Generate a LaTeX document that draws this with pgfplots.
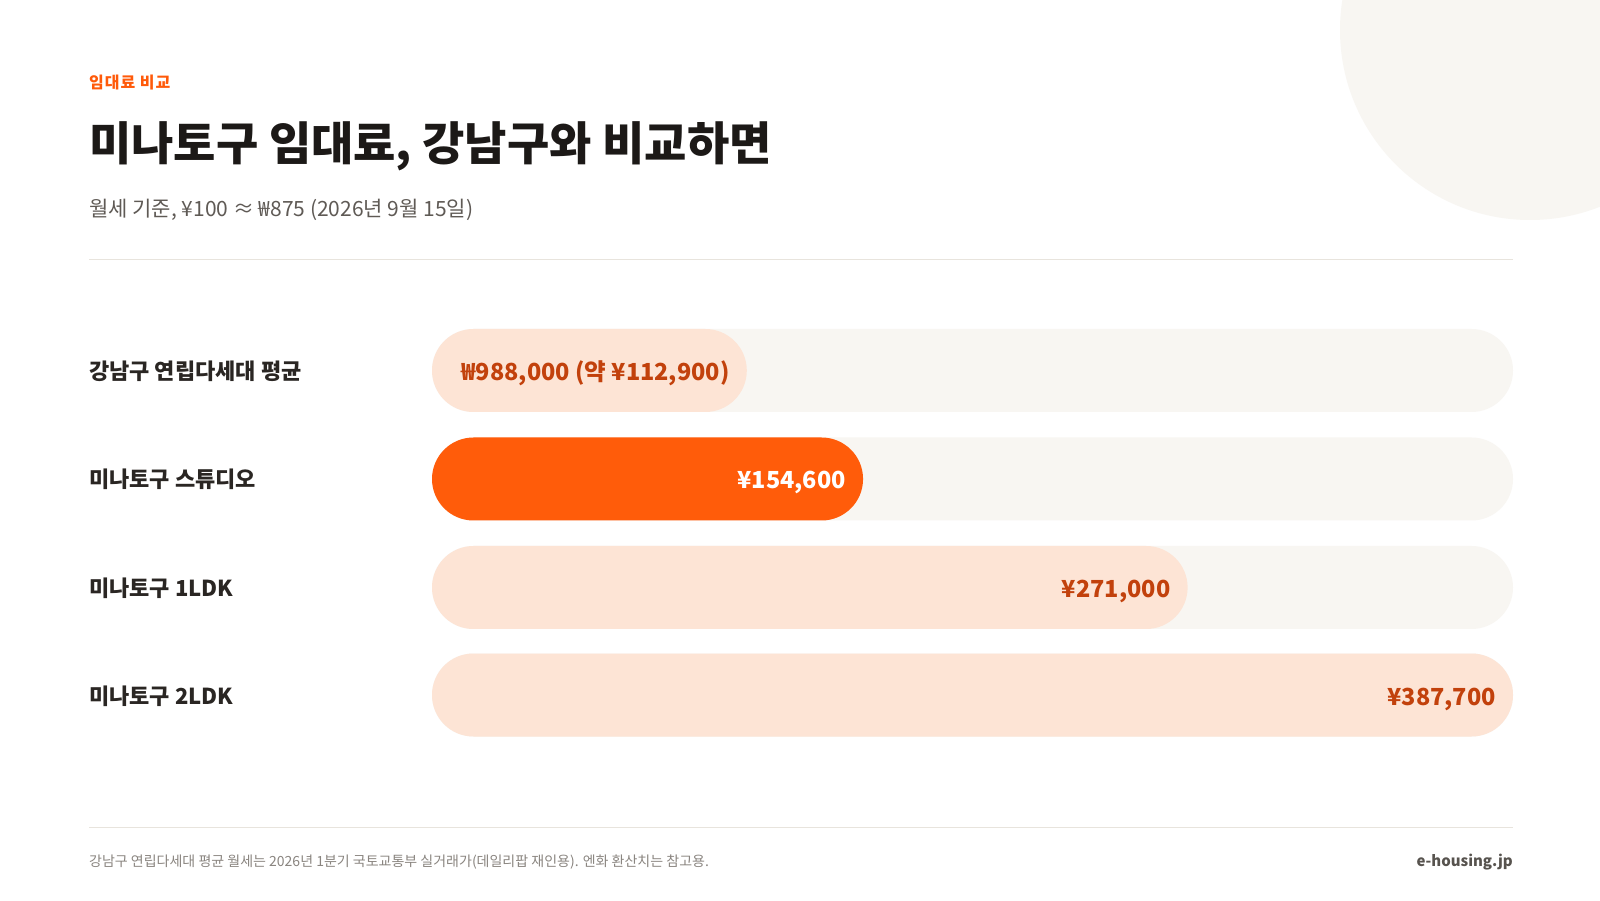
\documentclass[border=0pt]{standalone}
\usepackage{fontspec}
\setmainfont{Noto Sans CJK KR}
\usepackage{pgfplots}
\pgfplotsset{compat=1.18}

\definecolor{ink}{HTML}{1C1917}
\definecolor{labelink}{HTML}{2A2623}
\definecolor{subink}{HTML}{5F5A55}
\definecolor{footink}{HTML}{8A8580}
\definecolor{brandink}{HTML}{57534E}
\definecolor{accent}{HTML}{FF5A0A}
\definecolor{barorange}{HTML}{FF5C0A}
\definecolor{barlight}{HTML}{FDE4D5}
\definecolor{valink}{HTML}{C2410C}
\definecolor{track}{HTML}{F8F6F2}
\definecolor{rule}{HTML}{E8E4DD}

\begin{document}
\begin{tikzpicture}
\path[use as bounding box] (0,0) rectangle (1600pt,900pt);
\clip (0,0) rectangle (1600pt,900pt);
\fill[white] (0,0) rectangle (1600pt,900pt);
% decorative circle, top right
\fill[track] (1530pt,870pt) circle[radius=190pt];

% header
\node[anchor=base west, inner sep=0pt, text=accent,
  font=\fontsize{16}{19}\selectfont\bfseries\addfontfeatures{LetterSpace=6}]
  at (89pt,811pt) {임대료 비교};
\node[anchor=base west, inner sep=0pt, text=ink,
  font=\fontsize{46}{54}\selectfont\bfseries]
  at (89pt,739pt) {미나토구 임대료, 강남구와 비교하면};
\node[anchor=base west, inner sep=0pt, text=subink,
  font=\fontsize{21}{25}\selectfont]
  at (89pt,683pt) {월세 기준, ¥100 ≈ ₩875 (2026년 9월 15일)};
\draw[rule, line width=1pt] (89pt,640pt) -- (1513pt,640pt);

\begin{axis}[
  at={(0,0)}, anchor=south west,
  width=1600pt, height=900pt, scale only axis,
  xmin=-154936, xmax=418902,
  ymin=0, ymax=900,
  axis line style={draw=none},
  xtick=\empty,
  ytick={205,312.5,421,529.5},
  yticklabels={미나토구 2LDK, 미나토구 1LDK, 미나토구 스튜디오, 강남구 연립다세대 평균},
  major tick length=0pt,
  yticklabel style={anchor=base west, inner sep=0pt, xshift=89pt, yshift=-9pt,
    text=labelink, font=\fontsize{22}{26}\selectfont\bfseries},
  clip=false,
  xbar, bar shift=0pt, bar width=83pt,
  every axis plot/.append style={draw=none, rounded corners=41.5pt},
  point meta=explicit symbolic,
  every node near coord/.append style={anchor=base east, inner sep=0pt,
    xshift=-17pt, yshift=-10pt,
    font=\fontsize{23.5}{28}\selectfont\bfseries},
]
% track
\addplot[fill=track] coordinates {
  (387700,529.5) (387700,421) (387700,312.5) (387700,205)
};
% Gangnam average (converted to yen)
\addplot[fill=barlight, nodes near coords, every node near coord/.append style={text=valink}]
  coordinates {(112900,529.5) [{₩988,000 (약 ¥112,900)}]};
% Minato studio
\addplot[fill=barorange, nodes near coords, every node near coord/.append style={text=white}]
  coordinates {(154600,421) [{¥154,600}]};
% Minato 1LDK, 2LDK
\addplot[fill=barlight, nodes near coords, every node near coord/.append style={text=valink}]
  coordinates {(271000,312.5) [{¥271,000}] (387700,205) [{¥387,700}]};
\end{axis}

% footer
\draw[rule, line width=1pt] (89pt,73pt) -- (1513pt,73pt);
\node[anchor=base west, inner sep=0pt, text=footink,
  font=\fontsize{14}{17}\selectfont]
  at (89pt,34pt) {강남구 연립다세대 평균 월세는 2026년 1분기 국토교통부 실거래가(데일리팝 재인용). 엔화 환산치는 참고용.};
\node[anchor=base east, inner sep=0pt, text=brandink,
  font=\fontsize{15}{18}\selectfont\bfseries]
  at (1513pt,34pt) {e-housing.jp};
\end{tikzpicture}
\end{document}
